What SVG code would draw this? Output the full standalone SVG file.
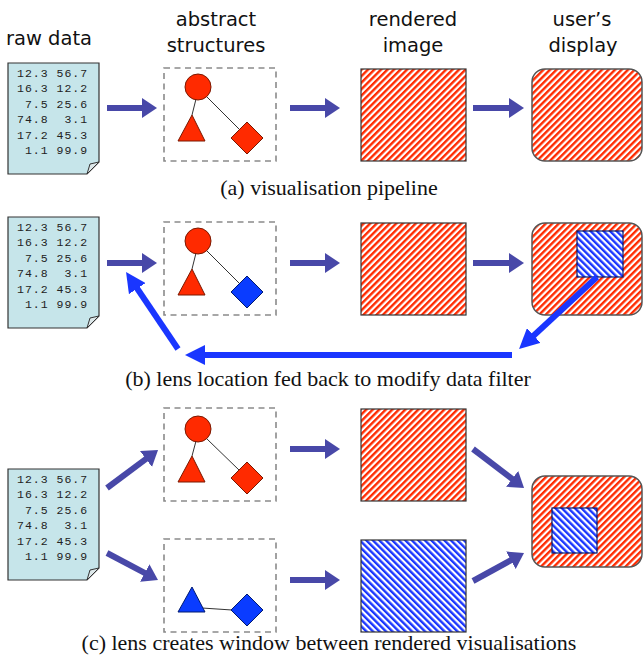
<svg xmlns="http://www.w3.org/2000/svg" width="644" height="660" viewBox="0 0 644 660">
<style>
.hdr{font-family:"DejaVu Sans",sans-serif;font-size:19.5px;fill:#111;text-anchor:middle}
.cap{font-family:"Liberation Serif","Times New Roman",serif;font-size:22px;fill:#111;text-anchor:middle}
.dat{font-family:"Liberation Mono","Courier New",monospace;font-size:11.5px;letter-spacing:1px;fill:#222;white-space:pre}
.doc{fill:#c6e5ea;stroke:#333;stroke-width:1.2}
.fold{fill:#dde8ea;stroke:#333;stroke-width:1}
.abox{fill:none;stroke:#8a8a8a;stroke-width:1.6;stroke-dasharray:6 4.5}
.edge{stroke:#333;stroke-width:1}
.red{fill:#ff2a00;stroke:#7a1800;stroke-width:1}
.blue{fill:#0a3cff;stroke:#001a70;stroke-width:1}
.img{stroke:#333;stroke-width:1.2}
.disp{stroke:#555;stroke-width:1.5}
.lens{fill:url(#bh);stroke:#001a70;stroke-width:1.2}
.ar{stroke:#4848a8;stroke-width:6;fill:none;marker-end:url(#ah)}
.fb{stroke:#1a36ff;stroke-width:6;fill:none;marker-end:url(#fh)}
</style>
<defs>
<pattern id="rh" patternUnits="userSpaceOnUse" width="4.6" height="10" patternTransform="rotate(45)">
<rect width="4.6" height="10" fill="#fff"/><rect width="2.4" height="10" fill="#ff2a00"/>
</pattern>
<pattern id="bh" patternUnits="userSpaceOnUse" width="4.6" height="10" patternTransform="rotate(-45)">
<rect width="4.6" height="10" fill="#fff"/><rect width="2.4" height="10" fill="#1a36ff"/>
</pattern>
<marker id="ah" viewBox="0 0 15 20" markerWidth="15" markerHeight="20" markerUnits="userSpaceOnUse" refX="3" refY="10" orient="auto">
<path d="M0,0 L15,10 L0,20 Z" fill="#4848a8"/>
</marker>
<marker id="fh" viewBox="0 0 20 20" markerWidth="20" markerHeight="20" markerUnits="userSpaceOnUse" refX="4" refY="10" orient="auto">
<path d="M0,0 L20,10 L0,20 Z" fill="#1a36ff"/>
</marker>
<g id="docShape">
<path class="doc" d="M0,0 H91 V99 L79,111 H0 Z"/>
<path class="fold" d="M91,99 L79,111 L82,101 Z"/>
<text class="dat" x="9" y="14">12.3 56.7</text>
<text class="dat" x="9" y="29.4">16.3 12.2</text>
<text class="dat" x="9" y="44.8"> 7.5 25.6</text>
<text class="dat" x="9" y="60.2">74.8  3.1</text>
<text class="dat" x="9" y="75.6">17.2 45.3</text>
<text class="dat" x="9" y="91"> 1.1 99.9</text>
</g>
</defs>

<g id="headers">
<text class="hdr" x="49" y="45">raw data</text>
<text class="hdr" x="216" y="26">abstract</text>
<text class="hdr" x="216" y="52">structures</text>
<text class="hdr" x="413" y="26">rendered</text>
<text class="hdr" x="413" y="52">image</text>
<text class="hdr" x="582" y="26">user’s</text>
<text class="hdr" x="583" y="52">display</text>
</g>

<!-- Panel (a) -->
<g id="a-data"><use href="#docShape" x="8" y="63"/></g>
<g id="a-abstract">
<rect class="abox" x="164" y="68" width="112" height="93"/>
<line class="edge" x1="196" y1="99" x2="192" y2="115"/>
<line class="edge" x1="207" y1="97" x2="239" y2="129"/>
<circle class="red" cx="198" cy="87" r="13"/>
<polygon class="red" points="192,115 205,141 178,141"/>
<polygon class="red" points="247,122 263,138 247,154 231,138"/>
</g>
<g id="a-rendered"><rect class="img" x="361" y="69" width="105" height="92" fill="url(#rh)"/></g>
<g id="a-display"><rect class="disp" x="532" y="69" width="110" height="92" rx="13" fill="url(#rh)"/></g>
<text id="cap-a" class="cap" x="329" y="195">(a) visualisation pipeline</text>

<!-- Panel (b) -->
<g id="b-data"><use href="#docShape" x="8" y="217"/></g>
<g id="b-abstract">
<rect class="abox" x="164" y="222" width="112" height="93"/>
<line class="edge" x1="196" y1="253" x2="192" y2="269"/>
<line class="edge" x1="207" y1="251" x2="239" y2="283"/>
<circle class="red" cx="198" cy="241" r="13"/>
<polygon class="red" points="192,269 205,295 178,295"/>
<polygon class="blue" points="247,276 263,292 247,308 231,292"/>
</g>
<g id="b-rendered"><rect class="img" x="361" y="223" width="105" height="92" fill="url(#rh)"/></g>
<g id="b-display">
<rect class="disp" x="532" y="223" width="110" height="92" rx="13" fill="url(#rh)"/>
<rect class="lens" x="577" y="231" width="46" height="46"/>
</g>
<text id="cap-b" class="cap" x="328" y="386">(b) lens location fed back to modify data filter</text>

<!-- Panel (c) -->
<g id="c-data"><use href="#docShape" x="8" y="469"/></g>
<g id="c-abstract-top">
<rect class="abox" x="164" y="408" width="112" height="93"/>
<line class="edge" x1="196" y1="441" x2="192" y2="456"/>
<line class="edge" x1="207" y1="439" x2="239" y2="470"/>
<circle class="red" cx="198" cy="429" r="13"/>
<polygon class="red" points="192,456 205,482 178,482"/>
<polygon class="red" points="247,462 263,478 247,494 231,478"/>
</g>
<g id="c-abstract-bottom">
<rect class="abox" x="164" y="539" width="112" height="93"/>
<line class="edge" x1="202" y1="608" x2="232" y2="610"/>
<polygon class="blue" points="192,587 205,612 178,612"/>
<polygon class="blue" points="247,594 263,610 247,626 231,610"/>
</g>
<g id="c-rendered-top"><rect class="img" x="361" y="409" width="105" height="92" fill="url(#rh)"/></g>
<g id="c-rendered-bottom"><rect class="img" x="361" y="540" width="105" height="92" fill="url(#bh)"/></g>
<g id="c-display">
<rect class="disp" x="532" y="476" width="110" height="91" rx="13" fill="url(#rh)"/>
<rect class="lens" x="552" y="508" width="45" height="45"/>
</g>
<text id="cap-c" class="cap" x="329" y="650">(c) lens creates window between rendered visualisations</text>

<g id="connectors">
<line class="ar" x1="107" y1="108" x2="145" y2="108"/>
<line class="ar" x1="290" y1="108" x2="328" y2="108"/>
<line class="ar" x1="473" y1="108" x2="512" y2="108"/>
<line class="ar" x1="107" y1="263" x2="145" y2="263"/>
<line class="ar" x1="290" y1="263" x2="328" y2="263"/>
<line class="ar" x1="473" y1="263" x2="512" y2="263"/>
<line class="fb" x1="597" y1="277" x2="530.8" y2="338.2"/>
<line class="fb" x1="512" y1="355" x2="201" y2="355"/>
<line class="fb" x1="178" y1="349" x2="135" y2="285.3"/>
<line class="ar" x1="107" y1="488" x2="148.4" y2="457.2"/>
<line class="ar" x1="107" y1="553" x2="147.4" y2="574.4"/>
<line class="ar" x1="290" y1="449" x2="328" y2="449"/>
<line class="ar" x1="290" y1="580" x2="328" y2="580"/>
<line class="ar" x1="473" y1="449" x2="514.5" y2="480.7"/>
<line class="ar" x1="473" y1="581" x2="513.5" y2="558.8"/>
</g>
</svg>
